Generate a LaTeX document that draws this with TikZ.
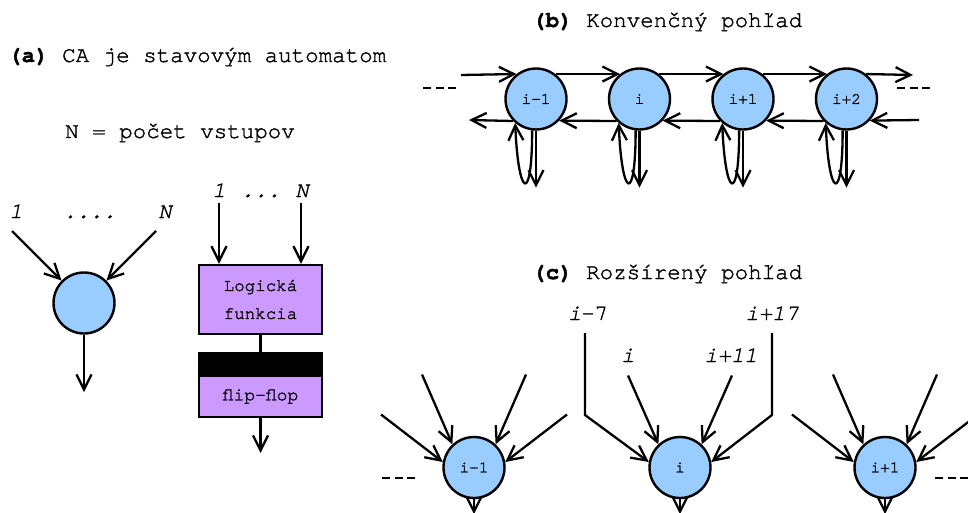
\documentclass[tikz,border=0pt]{standalone}
\usepackage{fontspec}
\newfontfamily\cour[FakeBold=1.5]{TeX Gyre Cursor}
\usetikzlibrary{arrows.meta,calc}
\definecolor{cellblue}{HTML}{99CCFF}
\definecolor{boxviolet}{HTML}{CC99FF}
\tikzset{
  cell/.style={circle, draw, line width=2.4pt, fill=cellblue, minimum size=61pt,
    inner sep=0pt, font=\cour\fontsize{16}{17}\selectfont},
  wire/.style={line width=2.3pt},
  arr/.style={wire, -{Straight Barb[length=15pt,width=15pt]}},
  title/.style={font=\cour\fontsize{22.5}{26}\selectfont, anchor=base west, inner sep=0pt},
  lab/.style={font=\cour\itshape\fontsize{22}{24}\selectfont, anchor=base, inner sep=0pt},
  gate/.style={draw, line width=2.4pt, fill=boxviolet, minimum width=123pt, inner sep=0pt},
  dots/.style={line width=2.4pt, dash pattern=on 8pt off 4.5pt}
}
\begin{document}
\begin{tikzpicture}[x=1pt,y=-1pt]
\useasboundingbox (0,0) rectangle (968,513);
\clip (0,0) rectangle (968,513);

% ---------- (a) ----------
\node[title] (ta) at (8,62) {{\bfseries (a)} CA je stavovým automatom};
\node[title, anchor=base] (tn) at (180,138) {N = počet vstupov};

% single cell with N inputs
\node[cell] (ca) at (84,303) {};
\node[lab] (la1) at (16,218) {1};
\node[lab] (lad) at (90,218) {....};
\node[lab] (laN) at (165,218) {N};
\coordinate (a1) at (12,231);
\coordinate (aN) at (156,231);
\coordinate (aout) at (84,392);
\draw[arr] (a1) -- (ca);
\draw[arr] (aN) -- (ca);
\draw[arr] (ca) -- (aout);

% logic function + flip-flop
\node[gate, minimum height=69pt, align=center,
  font=\cour\fontsize{17.5}{28}\selectfont] (logic) at (260.5,299.5) {Logická\\funkcia};
\node[draw, fill=black, line width=2.4pt, minimum width=123pt, minimum height=23pt,
  inner sep=0pt] (latch) at (260.5,364.5) {};
\node[gate, minimum height=41pt, font=\cour\fontsize{18}{20}\selectfont] (ff) at (260.5,396.5) {flip-flop};
\node[lab] (lb1) at (219,197) {1};
\node[lab] (lbd) at (261,197) {...};
\node[lab] (lbN) at (302,197) {N};
\coordinate (in1) at (219,203);
\coordinate (inN) at (301,203);
\coordinate (ffout) at (260.5,453);
\draw[arr] (in1) -- (in1 |- logic.north);
\draw[arr] (inN) -- (inN |- logic.north);
\draw[wire] (logic) -- (latch);
\draw[arr] (ff) -- (ffout);

% ---------- (b) ----------
\node[title] (tb) at (532,27) {{\bfseries (b)} Konvenčný pohľad};
\node[cell] (b1) at (536,99) {i-1};
\node[cell] (b2) at (639.5,99) {i};
\node[cell] (b3) at (743,99) {i+1};
\node[cell] (b4) at (846.5,99) {i+2};

\coordinate (bin) at (461,75);
\coordinate (bout) at (913,75);
\coordinate (blo) at (469,120);
\coordinate (bri) at (919,120);
\draw[arr] (bin) -- (b1.128);
\draw[arr] (b1.52) -- (b2.128);
\draw[arr] (b2.52) -- (b3.128);
\draw[arr] (b3.52) -- (b4.128);
\draw[arr] (b4.52) -- (bout);
\draw[arr] (bri) -- (b4.-43.5);
\draw[arr] (b4.-136.5) -- (b3.-43.5);
\draw[arr] (b3.-136.5) -- (b2.-43.5);
\draw[arr] (b2.-136.5) -- (b1.-43.5);
\draw[arr] (b1.-136.5) -- (blo);

\foreach \c in {b1,b2,b3,b4}{
  \draw[arr] (\c.-97) .. controls +(0,75) and +(3,75) .. (\c.-131);
  \draw[arr] (\c) -- ($(\c.south)+(0,57)$);
}
\draw[dots] (423,88) -- (458,88);
\draw[dots] (897,88) -- (932,88);

% ---------- (c) ----------
\node[title] (tc) at (532,279) {{\bfseries (c)} Rozšírený pohľad};
\node[cell] (c1) at (474,467.5) {i-1};
\node[cell] (c2) at (680,467.5) {i};
\node[cell] (c3) at (885,467.5) {i+1};

\foreach \c in {c1,c3}{
  \draw[arr] ($(\c)+(-93,-53)$) -- (\c.170);
  \draw[arr] ($(\c)+(-52,-93)$) -- (\c.133);
  \draw[arr] ($(\c)+(52,-93)$) -- (\c.47);
  \draw[arr] ($(\c)+(93,-53)$) -- (\c.10);
}
\node[lab] (l7) at (588,320) {i\upshape-7};
\node[lab] (li) at (628,362) {i};
\node[lab] (l11) at (731,362) {i+11};
\node[lab] (l17) at (772,320) {i+17};
\coordinate (s7) at (585,333);
\coordinate (s17) at (772,333);
\draw[arr] (s7) -- (585,415) -- (c2.170);
\draw[arr] ($(c2)+(-52,-92)$) -- (c2.133);
\draw[arr] ($(c2)+(52,-92)$) -- (c2.47);
\draw[arr] (s17) -- (772,415) -- (c2.10);

\foreach \c in {c1,c2,c3}{
  \draw[arr] (\c) -- ($(\c.south)+(0,15)$);
}
\draw[dots] (382,478) -- (417,478);
\draw[dots] (935,478) -- (970,478);
\end{tikzpicture}
\end{document}
